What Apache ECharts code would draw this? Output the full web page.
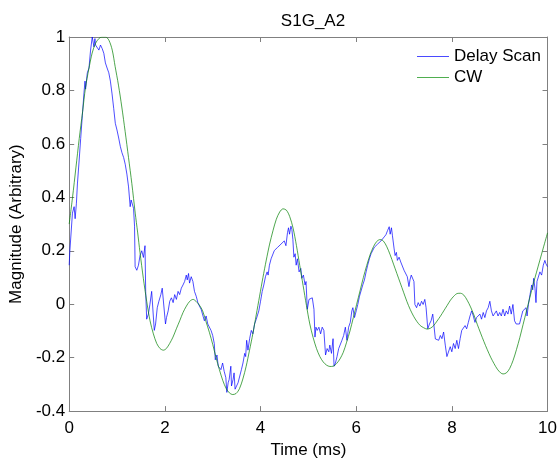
<!DOCTYPE html>
<html>
<head>
<meta charset="utf-8">
<title>S1G_A2</title>
<script src="https://cdn.jsdelivr.net/npm/echarts@6/dist/echarts.min.js"></script>
<style>
  html, body { margin: 0; padding: 0; background: #fff; }
  #main { width: 560px; height: 464px; }
</style>
</head>
<body>
<div id="main"></div>
<script>
// delay scan (ms, magnitude)
var scanTime = [
  0, 0.012, 0.068, 0.103, 0.124, 0.151, 0.172, 0.207, 0.24, 0.275, 0.31, 0.331, 0.343, 0.379, 0.414,
  0.447, 0.482, 0.517, 0.538, 0.55, 0.586, 0.621, 0.654, 0.689, 0.724, 0.757, 0.792, 0.828, 0.861,
  0.896, 0.931, 0.964, 0.999, 1.035, 1.068, 1.103, 1.138, 1.171, 1.206, 1.241, 1.275, 1.295, 1.324,
  1.345, 1.366, 1.378, 1.413, 1.448, 1.481, 1.517, 1.552, 1.585, 1.599, 1.62, 1.655, 1.688, 1.724,
  1.759, 1.779, 1.806, 1.841, 1.875, 1.916, 1.945, 1.986, 2.013, 2.034, 2.069, 2.102, 2.137, 2.173,
  2.206, 2.241, 2.276, 2.309, 2.344, 2.379, 2.413, 2.448, 2.468, 2.495, 2.516, 2.551, 2.586, 2.619,
  2.655, 2.69, 2.723, 2.758, 2.793, 2.826, 2.862, 2.897, 2.93, 2.965, 3.0, 3.033, 3.054, 3.089, 3.116,
  3.151, 3.172, 3.207, 3.24, 3.275, 3.296, 3.323, 3.344, 3.379, 3.393, 3.426, 3.447, 3.468, 3.503,
  3.53, 3.565, 3.6, 3.633, 3.669, 3.689, 3.71, 3.737, 3.772, 3.807, 3.84, 3.875, 3.911, 3.931, 3.964,
  4.0, 4.035, 4.068, 4.103, 4.138, 4.159, 4.186, 4.221, 4.254, 4.289, 4.324, 4.358, 4.393, 4.428,
  4.461, 4.496, 4.531, 4.564, 4.585, 4.606, 4.635, 4.655, 4.676, 4.697, 4.724, 4.745, 4.771, 4.806,
  4.842, 4.862, 4.896, 4.931, 4.951, 4.978, 5.013, 5.049, 5.082, 5.117, 5.138, 5.158, 5.185, 5.22,
  5.256, 5.289, 5.324, 5.359, 5.392, 5.427, 5.448, 5.483, 5.516, 5.537, 5.566, 5.599, 5.634, 5.669,
  5.702, 5.738, 5.773, 5.806, 5.841, 5.876, 5.909, 5.93, 5.965, 6.0, 6.033, 6.069, 6.104, 6.137,
  6.172, 6.207, 6.24, 6.276, 6.311, 6.344, 6.379, 6.414, 6.447, 6.483, 6.518, 6.551, 6.586, 6.621,
  6.654, 6.69, 6.71, 6.737, 6.758, 6.793, 6.813, 6.84, 6.861, 6.896, 6.931, 6.965, 7.0, 7.035, 7.068,
  7.103, 7.124, 7.151, 7.186, 7.207, 7.227, 7.262, 7.296, 7.331, 7.366, 7.399, 7.434, 7.461, 7.496,
  7.531, 7.565, 7.6, 7.635, 7.655, 7.689, 7.724, 7.759, 7.792, 7.827, 7.862, 7.896, 7.931, 7.966,
  7.999, 8.034, 8.069, 8.103, 8.138, 8.173, 8.206, 8.241, 8.276, 8.309, 8.344, 8.379, 8.413, 8.448,
  8.483, 8.516, 8.551, 8.586, 8.62, 8.655, 8.69, 8.723, 8.759, 8.794, 8.827, 8.862, 8.897, 8.93,
  8.965, 9.0, 9.034, 9.069, 9.104, 9.137, 9.172, 9.207, 9.241, 9.276, 9.31, 9.344, 9.379, 9.414,
  9.448, 9.483, 9.518, 9.551, 9.572, 9.6, 9.634, 9.669, 9.69, 9.71, 9.737, 9.758, 9.779, 9.807,
  9.84, 9.876, 9.911, 9.944, 9.965, 9.985, 10.0
];
var scanMag = [
  0.146, 0.195, 0.341, 0.365, 0.32, 0.378, 0.45, 0.536, 0.62, 0.707, 0.793, 0.835, 0.805, 0.866, 0.884,
  0.951, 1.0, 0.963, 0.994, 0.97, 0.976, 0.951, 0.97, 0.957, 0.939, 0.903, 0.884, 0.866, 0.835,
  0.787, 0.732, 0.677, 0.652, 0.622, 0.591, 0.567, 0.549, 0.524, 0.487, 0.439, 0.365, 0.39, 0.396,
  0.359, 0.292, 0.14, 0.127, 0.146, 0.182, 0.2, 0.175, 0.219, 0.048, -0.056, -0.037, 0.0, 0.048,
  0.054, -0.098, -0.074, -0.013, 0.011, 0.036, 0.06, 0.066, -0.074, -0.05, -0.025, 0.011, 0.024, 0.006,
  0.036, 0.018, 0.048, 0.036, 0.06, 0.072, 0.085, 0.109, 0.091, 0.115, 0.079, 0.103, 0.085, 0.048,
  0.03, 0.006, -0.007, -0.019, -0.013, -0.062, -0.044, -0.074, -0.068, -0.098, -0.117, -0.147, -0.208, -0.19, -0.232,
  -0.226, -0.245, -0.22, -0.251, -0.275, -0.33, -0.294, -0.282, -0.232, -0.306, -0.282, -0.257, -0.318, -0.324,
  -0.294, -0.287, -0.245, -0.22, -0.184, -0.196, -0.135, -0.172, -0.129, -0.098, -0.111, -0.074, -0.056, -0.05, -0.025,
  0.011, 0.048, 0.072, 0.103, 0.121, 0.109, 0.146, 0.17, 0.176, 0.201, 0.194, 0.213, 0.207, 0.225,
  0.219, 0.237, 0.219, 0.268, 0.286, 0.262, 0.292, 0.28, 0.243, 0.176, 0.189, 0.146, 0.17, 0.121,
  0.134, 0.097, 0.109, 0.072, 0.085, -0.019, 0.018, 0.011, 0.024, -0.019, -0.123, -0.086, -0.098, -0.086,
  -0.111, -0.086, -0.098, -0.19, -0.166, -0.178, -0.153, -0.184, -0.129, -0.232, -0.22, -0.196, -0.166, -0.159,
  -0.135, -0.117, -0.086, -0.135, -0.086, -0.068, -0.025, -0.013, -0.05, -0.025, -0.001, 0.03, 0.036, 0.072,
  0.091, 0.121, 0.146, 0.17, 0.189, 0.194, 0.213, 0.207, 0.225, 0.219, 0.237, 0.231, 0.252, 0.26,
  0.275, 0.29, 0.262, 0.286, 0.256, 0.207, 0.182, 0.194, 0.164, 0.176, 0.158, 0.164, 0.127, 0.134, 0.103,
  0.066, 0.091, 0.109, 0.115, 0.085, -0.001, -0.013, 0.006, -0.007, 0.011, -0.001, 0.018, -0.013, -0.092,
  -0.074, -0.062, -0.037, -0.044, -0.13, -0.129, -0.135, -0.117, -0.129, -0.104, -0.153, -0.196, -0.19, -0.159,
  -0.178, -0.147, -0.166, -0.135, -0.166, -0.129, -0.098, -0.104, -0.08, -0.092, -0.068, -0.044, -0.025, -0.044,
  -0.068, -0.05, -0.056, -0.037, -0.056, -0.031, -0.05, -0.025, -0.013, 0.011, -0.025, -0.044, -0.05, -0.025,
  -0.044, -0.031, -0.044, -0.019, -0.044, -0.025, -0.037, -0.007, -0.037, -0.001, -0.062, -0.074, -0.074, -0.074,
  -0.05, -0.025, -0.031, -0.013, -0.044, -0.001, 0.036, 0.072, 0.054, 0.097, 0.06, 0.006, 0.085, 0.091,
  0.121, 0.109, 0.146, 0.164, 0.152, 0.146, 0.14
];

// continuous wave (ms, magnitude)
var cwTime = [
  0, 0.07, 0.14, 0.21, 0.28, 0.34, 0.41, 0.48, 0.55, 0.62, 0.69, 0.76, 0.83, 0.9, 0.96, 1.03, 1.1,
  1.17, 1.24, 1.31, 1.38, 1.43, 1.48, 1.55, 1.62, 1.69, 1.76, 1.83, 1.9, 1.97, 2.03, 2.1, 2.17, 2.24,
  2.31, 2.38, 2.45, 2.52, 2.59, 2.65, 2.72, 2.79, 2.86, 2.93, 3.0, 3.07, 3.14, 3.21, 3.28, 3.35, 3.42,
  3.49, 3.56, 3.63, 3.7, 3.77, 3.84, 3.91, 3.98, 4.05, 4.12, 4.19, 4.26, 4.33, 4.4, 4.47, 4.54, 4.61,
  4.68, 4.75, 4.82, 4.89, 4.96, 5.03, 5.1, 5.17, 5.24, 5.31, 5.38, 5.45, 5.52, 5.59, 5.66, 5.73, 5.8,
  5.87, 5.94, 6.01, 6.08, 6.15, 6.22, 6.29, 6.36, 6.43, 6.5, 6.57, 6.64, 6.71, 6.78, 6.85, 6.92, 6.99,
  7.06, 7.13, 7.2, 7.27, 7.34, 7.41, 7.48, 7.55, 7.62, 7.69, 7.76, 7.83, 7.9, 7.97, 8.04, 8.11, 8.18,
  8.25, 8.32, 8.39, 8.46, 8.53, 8.6, 8.67, 8.74, 8.81, 8.88, 8.95, 9.02, 9.07, 9.14, 9.21, 9.28, 9.35,
  9.42, 9.49, 9.56, 9.63, 9.7, 9.77, 9.84, 9.91, 10.0
];
var cwMag = [
  0.30, 0.40, 0.51, 0.62, 0.72, 0.81, 0.88, 0.94, 0.976, 0.994, 1.0, 1.0, 0.988, 0.951, 0.89, 0.82, 0.738,
  0.646, 0.549, 0.451, 0.341, 0.27, 0.194, 0.097, 0.011, -0.062, -0.111, -0.147, -0.166, -0.172, -0.166, -0.147, -0.123, -0.092,
  -0.062, -0.031, -0.007, 0.011, 0.018, 0.011, -0.003, -0.025, -0.065, -0.105, -0.15, -0.2, -0.245, -0.285, -0.315, -0.332, -0.338,
  -0.334, -0.316, -0.28, -0.232, -0.172, -0.11, -0.04, 0.03, 0.1, 0.165, 0.225, 0.275, 0.318, 0.345, 0.357, 0.352, 0.328,
  0.285, 0.22, 0.145, 0.07, -0.005, -0.074, -0.125, -0.166, -0.196, -0.216, -0.228, -0.233, -0.232, -0.222, -0.205, -0.18, -0.142,
  -0.1, -0.05, 0.0, 0.05, 0.1, 0.145, 0.185, 0.215, 0.235, 0.242, 0.236, 0.215, 0.185, 0.15, 0.115, 0.08, 0.045,
  0.01, -0.02, -0.045, -0.065, -0.08, -0.088, -0.093, -0.09, -0.08, -0.063, -0.045, -0.025, -0.005, 0.015, 0.03, 0.04, 0.041,
  0.034, 0.015, -0.01, -0.04, -0.075, -0.108, -0.14, -0.17, -0.198, -0.222, -0.243, -0.257, -0.261, -0.257, -0.24, -0.21, -0.17,
  -0.125, -0.075, -0.025, 0.025, 0.075, 0.12, 0.165, 0.21, 0.267
];

var xTicks = { min: 0, max: 10, interval: 2 };
var yTicks = { min: -0.4, max: 1, interval: 0.2 };

var BLUE = '#0000ff';
var GREEN = '#008000';

function pairs(xs, ys) {
  return xs.map(function (x, i) { return [x, ys[i]]; });
}

var FONT = 'Liberation Sans, Arial, Helvetica, sans-serif';
var FONT_SIZE = 17;
var AXIS_COLOR = '#808080';

function xAxisOf(position, shown) {
  return {
    type: 'value',
    position: position,
    min: xTicks.min, max: xTicks.max, interval: xTicks.interval,
    name: shown ? 'Time (ms)' : '',
    nameLocation: 'middle',
    nameGap: 27,
    nameTextStyle: { color: '#000', fontSize: FONT_SIZE, fontFamily: FONT },
    axisLine: { show: true, onZero: false, lineStyle: { color: AXIS_COLOR, width: 1 } },
    axisTick: { show: true, inside: true, length: 5, lineStyle: { color: AXIS_COLOR } },
    axisLabel: { show: shown, color: '#000', fontSize: FONT_SIZE, fontFamily: FONT, margin: 9 },
    splitLine: { show: false }
  };
}

function yAxisOf(position, shown) {
  return {
    type: 'value',
    position: position,
    min: yTicks.min, max: yTicks.max, interval: yTicks.interval,
    name: shown ? 'Magnitude (Arbitrary)' : '',
    nameLocation: 'middle',
    nameGap: 35,
    nameTextStyle: { color: '#000', fontSize: FONT_SIZE, fontFamily: FONT },
    axisLine: { show: true, onZero: false, lineStyle: { color: AXIS_COLOR, width: 1 } },
    axisTick: { show: true, inside: true, length: 5, lineStyle: { color: AXIS_COLOR } },
    axisLabel: {
      show: shown, color: '#000', fontSize: FONT_SIZE, fontFamily: FONT, margin: 4,
      formatter: function (v) { return String(+v.toFixed(1)); }
    },
    splitLine: { show: false }
  };
}

var chart = echarts.init(document.getElementById('main'), null, { renderer: 'canvas' });
chart.setOption({
  animation: false,
  backgroundColor: '#fff',
  title: {
    text: 'S1G_A2',
    left: 308, top: 8, textAlign: 'center',
    textStyle: { color: '#000', fontSize: FONT_SIZE, fontWeight: 'normal', fontFamily: FONT }
  },
  legend: {
    orient: 'vertical',
    left: 417, top: 48,
    padding: 0,
    icon: 'rect',
    itemWidth: 32, itemHeight: 1,
    itemGap: 4,
    textStyle: { color: '#000', fontSize: FONT_SIZE, fontFamily: FONT },
    data: [
      { name: 'Delay Scan', itemStyle: { color: '#4a4aff', borderWidth: 0 } },
      { name: 'CW', itemStyle: { color: '#4fae4f', borderWidth: 0 } }
    ]
  },
  grid: { left: 66, right: 10, top: 37, bottom: 45, containLabel: false },
  xAxis: [xAxisOf('bottom', true), xAxisOf('top', false)],
  yAxis: [yAxisOf('left', true), yAxisOf('right', false)],
  series: [
    {
      name: 'Delay Scan',
      type: 'line',
      showSymbol: false,
      data: pairs(scanTime, scanMag),
      lineStyle: { color: BLUE, width: 0.7 },
      itemStyle: { color: BLUE }
    },
    {
      name: 'CW',
      type: 'line',
      showSymbol: false,
      smooth: 0.3,
      data: pairs(cwTime, cwMag),
      lineStyle: { color: GREEN, width: 0.7 },
      itemStyle: { color: GREEN }
    }
  ]
});
</script>
</body>
</html>
